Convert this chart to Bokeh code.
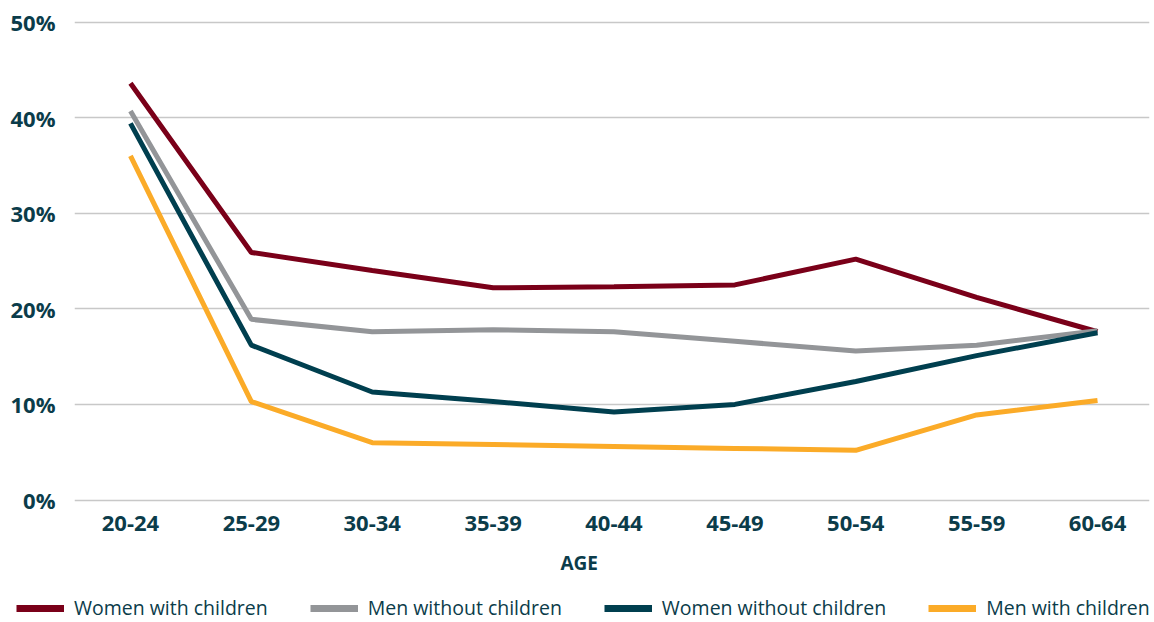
from bokeh.plotting import figure
from bokeh.layouts import column, row
from bokeh.models import (Range1d, FixedTicker, PrintfTickFormatter, Legend, LegendItem, Title)
from bokeh.embed import file_html
from bokeh.resources import INLINE

ages = ["20-24", "25-29", "30-34", "35-39", "40-44", "45-49", "50-54", "55-59", "60-64"]
women_with_children = [43.6, 25.9, 24.0, 22.2, 22.3, 22.5, 25.2, 21.2, 17.6]
men_without_children = [40.7, 18.9, 17.6, 17.8, 17.6, 16.6, 15.6, 16.2, 17.7]
women_without_children = [39.4, 16.2, 11.3, 10.3, 9.2, 10.0, 12.4, 15.1, 17.5]
men_with_children = [36.0, 10.3, 6.0, 5.8, 5.6, 5.4, 5.2, 8.9, 10.4]
y_ticks = [0, 10, 20, 30, 40, 50]

series = [
    ("Women with children", women_with_children, "#7a0019"),
    ("Men without children", men_without_children, "#939598"),
    ("Women without children", women_without_children, "#003f4f"),
    ("Men with children", men_with_children, "#fbab28"),
]

TEXT = "#0b3c4a"
FONT = "Open Sans"

x = list(range(len(ages)))

p = figure(width=1154, height=590, output_backend="svg", toolbar_location=None,
           x_range=Range1d(-0.463, 8.430), y_range=Range1d(-0.575, 51.0),
           min_border_left=74, min_border_right=5, min_border_top=12, min_border_bottom=85)
p.outline_line_color = None
p.background_fill_color = "white"
p.border_fill_color = "white"

for name, vals, color in series:
    p.line(x, vals, line_color=color, line_width=5)

p.xgrid.grid_line_color = None
p.ygrid.grid_line_color = "#c8c8c8"
p.ygrid.grid_line_width = 1.5

p.yaxis.ticker = FixedTicker(ticks=y_ticks)
p.yaxis.formatter = PrintfTickFormatter(format="%d%%")
p.xaxis.ticker = FixedTicker(ticks=x)
p.xaxis.major_label_overrides = {i: a for i, a in enumerate(ages)}

for ax in (p.xaxis[0], p.yaxis[0]):
    ax.axis_line_color = None
    ax.major_tick_line_color = None
    ax.minor_tick_line_color = None
    ax.major_tick_out = 0
    ax.major_tick_in = 0
    ax.major_label_text_font = FONT
    ax.major_label_text_font_style = "bold"
    ax.major_label_text_font_size = "22px"
    ax.major_label_text_color = TEXT

p.yaxis.major_label_standoff = 19
p.xaxis.major_label_standoff = 10

age = Title(text="AGE", align="left", offset=486, standoff=28,
            text_font=FONT, text_font_style="bold", text_font_size="19px",
            text_color=TEXT)
p.add_layout(age, "below")

# legend strip below the chart (series drawn out of view; only the legend shows)
lg = figure(width=1154, height=32, output_backend="svg", toolbar_location=None,
            x_range=Range1d(0, 1), y_range=Range1d(100, 101),
            min_border_left=0, min_border_right=0, min_border_top=0, min_border_bottom=0)
lg.xaxis.visible = False
lg.yaxis.visible = False
lg.xgrid.visible = False
lg.ygrid.visible = False
lg.outline_line_color = None
items = []
for name, vals, color in series:
    r = lg.line(x, vals, line_color=color, line_width=7)
    items.append(LegendItem(label=name, renderers=[r]))

legend = Legend(items=items, orientation="horizontal", location=(16, 1),
                label_text_font=FONT, label_text_font_size="19.5px", label_text_color=TEXT,
                glyph_width=48, glyph_height=20, label_standoff=10, spacing=42,
                padding=0, margin=0, border_line_color=None, background_fill_alpha=0)
lg.add_layout(legend, "center")

layout = column(p, row(lg), spacing=0)
open("out.html", "w").write(file_html(layout, INLINE))
